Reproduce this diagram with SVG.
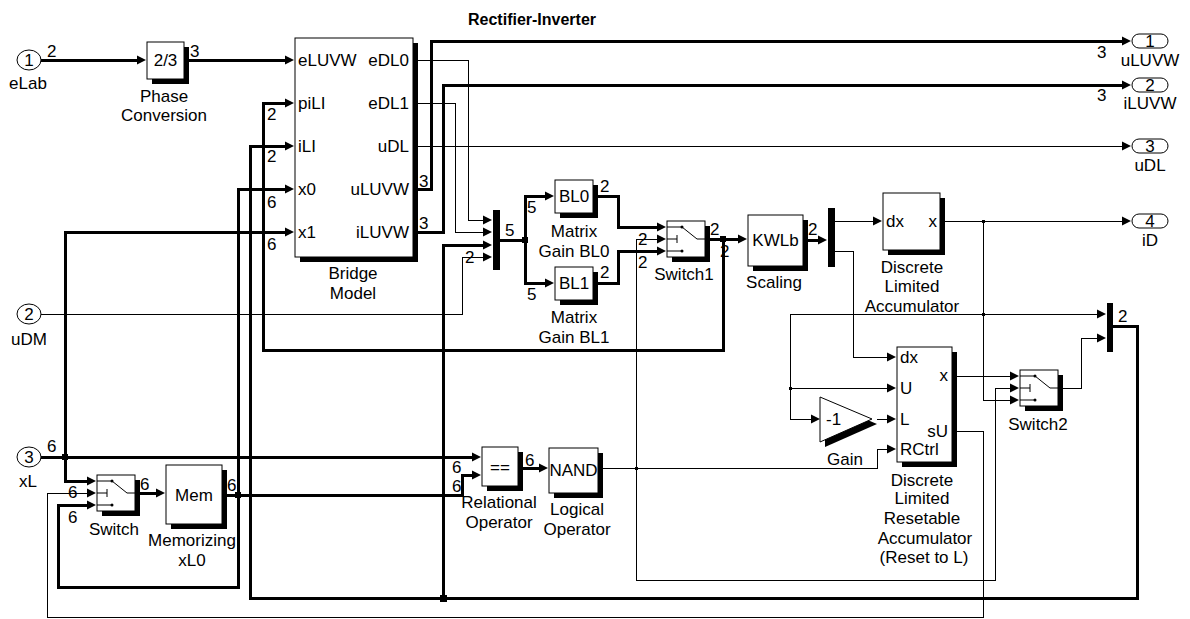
<svg xmlns="http://www.w3.org/2000/svg" xmlns:xlink="http://www.w3.org/1999/xlink" width="1190" height="619" viewBox="0 0 1190 619">
<style>
.t{font-family:"Liberation Sans",Arial,sans-serif;font-size:17px;fill:#000}
.c{text-anchor:middle}
.e{text-anchor:end}
.b{font-weight:bold;font-size:16px}
.blk{fill:#fff;stroke:#000;stroke-width:1}
.sh{fill:#000;stroke:none}
.bar{fill:#000;stroke:none}
.thin{fill:none;stroke:#000;stroke-width:1;marker-end:url(#ah)}
.thick{fill:none;stroke:#000;stroke-width:3;marker-end:url(#ah)}
.thinn{fill:none;stroke:#000;stroke-width:1}
.thickn{fill:none;stroke:#000;stroke-width:3}
.port{fill:#fff;stroke:#000;stroke-width:1}
.sw{fill:none;stroke:#000;stroke-width:1}
</style>
<defs>
<marker id="ah" markerUnits="userSpaceOnUse" markerWidth="10" markerHeight="10" refX="1" refY="5" orient="auto" overflow="visible">
<path d="M0,0.5 L9,5 L0,9.5 z" fill="#000"/>
</marker>
<g id="swi">
<path class="sw" d="M0,6 H15 L30,18 H38 M0,18 H10 M10,14 V22 M0,30 H15"/>
<circle cx="15" cy="6" r="1.5" fill="#000"/>
<circle cx="15" cy="30" r="1.5" fill="#000"/>
</g>
</defs>
<rect width="1190" height="619" fill="#fff"/>
<text class="t b" x="468" y="25">Rectifier-Inverter</text>

<g id="in1">
<ellipse class="port" cx="29" cy="60" rx="12" ry="10"/>
<text class="t c" x="29" y="66">1</text>
<text class="t c" x="28" y="89">eLab</text>
</g>
<g id="in2">
<ellipse class="port" cx="29" cy="314" rx="12" ry="10"/>
<text class="t c" x="29" y="320">2</text>
<text class="t c" x="29" y="345">uDM</text>
</g>
<g id="in3">
<ellipse class="port" cx="29" cy="457" rx="12" ry="10"/>
<text class="t c" x="29" y="463">3</text>
<text class="t c" x="28" y="487">xL</text>
</g>

<g id="phase">
<rect class="sh" x="152" y="47" width="37" height="37"/>
<rect class="blk" x="147" y="42" width="37" height="37"/>
<text class="t c" x="165.5" y="66">2/3</text>
<text class="t c" x="164" y="102">Phase</text>
<text class="t c" x="164" y="121">Conversion</text>
</g>

<g id="bridge">
<rect class="sh" x="300" y="43" width="118" height="219"/>
<rect class="blk" x="295" y="38" width="118" height="219"/>
<text class="t" x="298" y="66">eLUVW</text>
<text class="t" x="298" y="109">piLI</text>
<text class="t" x="298" y="152">iLI</text>
<text class="t" x="298" y="195">x0</text>
<text class="t" x="298" y="238">x1</text>
<text class="t e" x="409" y="66">eDL0</text>
<text class="t e" x="409" y="109">eDL1</text>
<text class="t e" x="409" y="152">uDL</text>
<text class="t e" x="409" y="195">uLUVW</text>
<text class="t e" x="409" y="238">iLUVW</text>
<text class="t c" x="353" y="279">Bridge</text>
<text class="t c" x="353" y="299">Model</text>
</g>

<g id="mux1"><rect class="bar" x="493" y="210" width="7" height="60"/></g>

<g id="bl0">
<rect class="sh" x="560" y="185" width="38" height="33"/>
<rect class="blk" x="555" y="180" width="38" height="33"/>
<text class="t c" x="574" y="202">BL0</text>
<text class="t c" x="574" y="237">Matrix</text>
<text class="t c" x="574" y="257">Gain BL0</text>
</g>
<g id="bl1">
<rect class="sh" x="560" y="272" width="38" height="33"/>
<rect class="blk" x="555" y="267" width="38" height="33"/>
<text class="t c" x="574" y="289">BL1</text>
<text class="t c" x="574" y="323">Matrix</text>
<text class="t c" x="574" y="343">Gain BL1</text>
</g>

<g id="switch1">
<rect class="sh" x="672" y="226" width="38" height="36"/>
<rect class="blk" x="667" y="221" width="38" height="36"/>
<use xlink:href="#swi" x="667" y="221"/>
<text class="t c" x="684" y="280">Switch1</text>
</g>

<g id="scaling">
<rect class="sh" x="753" y="220" width="55" height="51"/>
<rect class="blk" x="748" y="215" width="55" height="51"/>
<text class="t c" x="775.5" y="246">KWLb</text>
<text class="t c" x="774" y="288">Scaling</text>
</g>

<g id="demux"><rect class="bar" x="828" y="208" width="7" height="59"/></g>

<g id="accum">
<rect class="sh" x="888" y="198" width="57" height="57"/>
<rect class="blk" x="883" y="193" width="57" height="57"/>
<text class="t" x="886" y="227">dx</text>
<text class="t e" x="937" y="227">x</text>
<text class="t c" x="912" y="273">Discrete</text>
<text class="t c" x="912" y="292">Limited</text>
<text class="t c" x="912" y="312">Accumulator</text>
</g>

<g id="resacc">
<rect class="sh" x="902" y="352" width="55" height="115"/>
<rect class="blk" x="897" y="347" width="55" height="115"/>
<text class="t" x="900" y="363">dx</text>
<text class="t" x="900" y="394">U</text>
<text class="t" x="900" y="425">L</text>
<text class="t" x="900" y="455">RCtrl</text>
<text class="t e" x="948" y="381">x</text>
<text class="t e" x="948" y="437">sU</text>
<text class="t c" x="922" y="486">Discrete</text>
<text class="t c" x="922" y="504">Limited</text>
<text class="t c" x="922" y="524">Resetable</text>
<text class="t c" x="925" y="544">Accumulator</text>
<text class="t c" x="924" y="563">(Reset to L)</text>
</g>

<g id="gain">
<polygon class="sh" points="825,402 877,424 825,447"/>
<polygon class="blk" points="820,397 872,419 820,442"/>
<text class="t" x="826" y="425">-1</text>
<text class="t c" x="845" y="465">Gain</text>
</g>

<g id="switch2">
<rect class="sh" x="1025" y="375" width="38" height="36"/>
<rect class="blk" x="1020" y="370" width="38" height="36"/>
<use xlink:href="#swi" x="1020" y="370"/>
<text class="t c" x="1038" y="430">Switch2</text>
</g>

<g id="mux2"><rect class="bar" x="1107" y="303" width="6" height="49"/></g>

<g id="switch">
<rect class="sh" x="102" y="480" width="38" height="36"/>
<rect class="blk" x="97" y="475" width="38" height="36"/>
<use xlink:href="#swi" x="97" y="475"/>
<text class="t c" x="114" y="535">Switch</text>
</g>

<g id="mem">
<rect class="sh" x="171" y="470" width="56" height="59"/>
<rect class="blk" x="166" y="465" width="56" height="59"/>
<text class="t c" x="194" y="501">Mem</text>
<text class="t c" x="192" y="546">Memorizing</text>
<text class="t c" x="192" y="566">xL0</text>
</g>

<g id="relop">
<rect class="sh" x="487" y="452" width="36" height="39"/>
<rect class="blk" x="482" y="447" width="36" height="39"/>
<text class="t c" x="500" y="473">==</text>
<text class="t c" x="499" y="508">Relational</text>
<text class="t c" x="499" y="528">Operator</text>
</g>

<g id="nand">
<rect class="sh" x="554" y="453" width="49" height="45"/>
<rect class="blk" x="549" y="448" width="49" height="45"/>
<text class="t c" x="573.5" y="476">NAND</text>
<text class="t c" x="577" y="515">Logical</text>
<text class="t c" x="577" y="535">Operator</text>
</g>

<g id="out1">
<rect class="port" x="1132" y="34" width="36" height="14" rx="7"/>
<text class="t c" x="1150" y="47">1</text>
<text class="t c" x="1150" y="66">uLUVW</text>
</g>
<g id="out2">
<rect class="port" x="1132" y="78" width="36" height="14" rx="7"/>
<text class="t c" x="1150" y="91">2</text>
<text class="t c" x="1150" y="109">iLUVW</text>
</g>
<g id="out3">
<rect class="port" x="1132" y="139" width="36" height="14" rx="7"/>
<text class="t c" x="1150" y="152">3</text>
<text class="t c" x="1150" y="171">uDL</text>
</g>
<g id="out4">
<rect class="port" x="1132" y="214" width="36" height="14" rx="7"/>
<text class="t c" x="1150" y="227">4</text>
<text class="t c" x="1150" y="246">iD</text>
</g>

<g id="connectors" shape-rendering="crispEdges">
<path class="thick" d="M41,60 H138"/>
<path class="thick" d="M189,60 H286"/>
<path class="thin" d="M413,60 H468 V220 H484"/>
<path class="thin" d="M413,103 H455 V232 H484"/>
<path class="thin" d="M413,146 H1123"/>
<path class="thick" d="M418,189 H431 V41 H1123"/>
<path class="thick" d="M418,232 H443 V85 H1123"/>
<path class="thick" d="M723,239 V350 H263 V103 H286"/>
<path class="thick" d="M1113,326 H1137 V598 H250 V146 H286"/>
<path class="thick" d="M443,598 V245 H484"/>
<path class="thin" d="M41,314 H462 V257 H484"/>
<path class="thickn" d="M500,240 H525"/>
<path class="thick" d="M525,240 V196 H546"/>
<path class="thick" d="M525,240 V283 H546"/>
<path class="thick" d="M598,196 H618 V227 H658"/>
<path class="thick" d="M598,283 H618 V251 H658"/>
<path class="thin" d="M603,468 H877 V449 H888"/>
<path class="thin" d="M636,468 V239 H658"/>
<path class="thin" d="M636,468 V580 H995 V388 H1011"/>
<path class="thick" d="M710,239 H739"/>
<path class="thick" d="M808,240 H819"/>
<path class="thin" d="M835,221 H874"/>
<path class="thin" d="M835,251 H853 V357 H888"/>
<path class="thin" d="M945,221 H1123"/>
<path class="thin" d="M983,221 V400 H1011"/>
<path class="thin" d="M983,314 H1098"/>
<path class="thin" d="M983,314 H790 V419 H812"/>
<path class="thin" d="M790,388 H888"/>
<path class="thin" d="M877,419 H888"/>
<path class="thin" d="M957,376 H1011"/>
<path class="thin" d="M1063,388 H1081 V338 H1098"/>
<path class="thin" d="M957,431 H983 V617 H47 V493 H88"/>
<path class="thick" d="M41,457 H473"/>
<path class="thick" d="M65,457 V232 H286"/>
<path class="thick" d="M65,457 V481 H88"/>
<path class="thick" d="M140,493 H157"/>
<path class="thick" d="M227,495 H462 V475 H473"/>
<path class="thick" d="M238,495 V189 H286"/>
<path class="thick" d="M238,495 V587 H58 V505 H88"/>
<path class="thick" d="M523,468 H540"/>
<rect x="522" y="237" width="6" height="6" fill="#000"/>
<rect x="720" y="236" width="6" height="6" fill="#000"/>
<rect x="62" y="454" width="6" height="6" fill="#000"/>
<rect x="235" y="492" width="6" height="6" fill="#000"/>
<rect x="440" y="595" width="7" height="7" fill="#000"/>
<rect x="982" y="220" width="3" height="3" fill="#000"/>
<rect x="982" y="313" width="3" height="3" fill="#000"/>
<rect x="789" y="387" width="3" height="3" fill="#000"/>
<rect x="635" y="467" width="3" height="3" fill="#000"/>
</g>

<g id="edge-labels">
<text class="t" x="47" y="57">2</text>
<text class="t" x="190" y="57">3</text>
<text class="t" x="267" y="120">2</text>
<text class="t" x="267" y="162">2</text>
<text class="t" x="267" y="208">6</text>
<text class="t" x="267" y="250">6</text>
<text class="t" x="419" y="187">3</text>
<text class="t" x="419" y="229">3</text>
<text class="t" x="1097" y="58">3</text>
<text class="t" x="1097" y="101">3</text>
<text class="t" x="505" y="236">5</text>
<text class="t" x="465" y="263">2</text>
<text class="t" x="527" y="213">5</text>
<text class="t" x="527" y="300">5</text>
<text class="t" x="600" y="192">2</text>
<text class="t" x="600" y="278">2</text>
<text class="t" x="638" y="245">2</text>
<text class="t" x="638" y="268">2</text>
<text class="t" x="710" y="235">2</text>
<text class="t" x="720" y="257">2</text>
<text class="t" x="808" y="235">2</text>
<text class="t" x="1118" y="322">2</text>
<text class="t" x="47" y="452">6</text>
<text class="t" x="68" y="498">6</text>
<text class="t" x="68" y="523">6</text>
<text class="t" x="140" y="490">6</text>
<text class="t" x="227" y="491">6</text>
<text class="t" x="452" y="473">6</text>
<text class="t" x="452" y="492">6</text>
<text class="t" x="525" y="466">6</text>
</g>
</svg>
